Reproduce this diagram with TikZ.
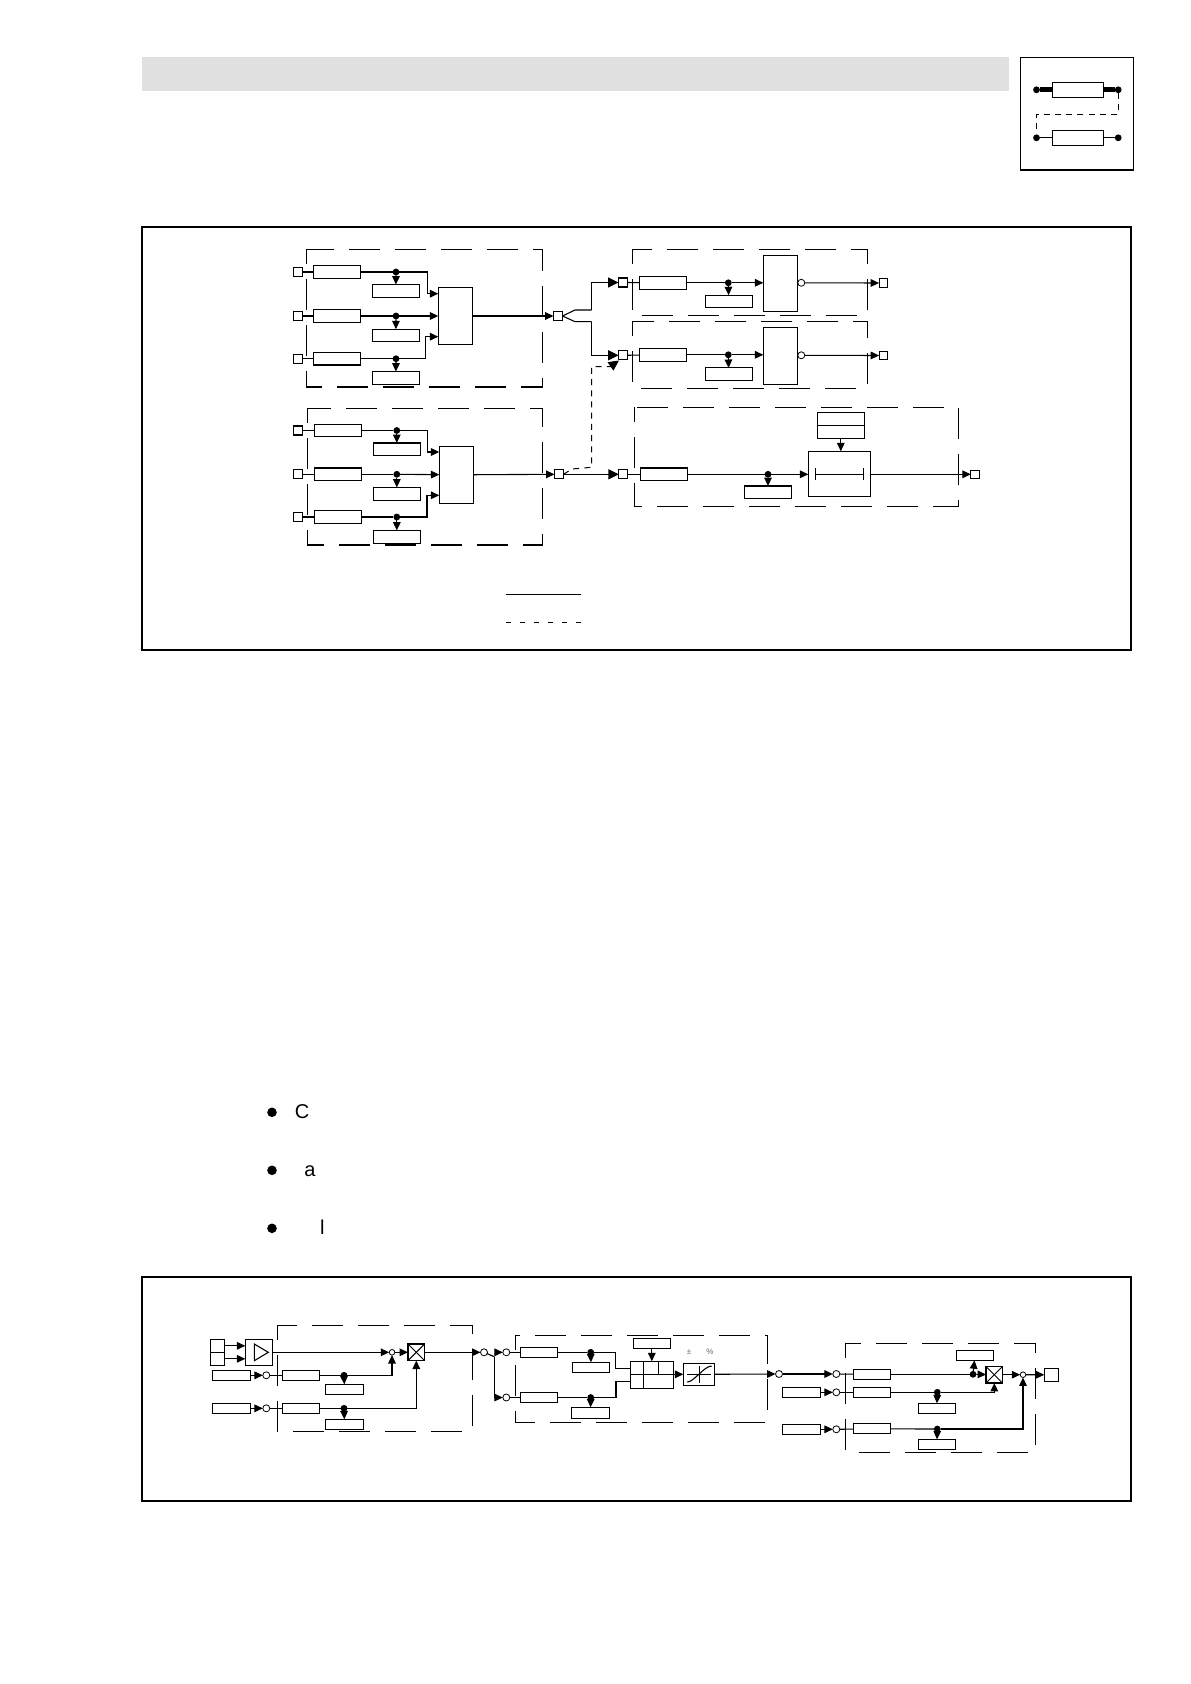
\documentclass[tikz,border=0pt]{standalone}
\usepackage{fontspec}
\setmainfont{Liberation Sans}
\usetikzlibrary{arrows.meta}
\tikzset{
  frame/.style={line width=1pt},
  group/.style={line width=.6pt, dash pattern=on 15.5pt off 7.5pt, dash phase=8pt},
  bar/.style={draw, line width=.55pt, fill=white, inner sep=0pt, outer sep=0pt, minimum width=23.5pt, minimum height=6.3pt},
  tinybar/.style={draw, line width=.55pt, fill=white, inner sep=0pt, outer sep=0pt, minimum width=18.6pt, minimum height=5pt},
  tall/.style={draw, line width=.55pt, inner sep=0pt, outer sep=0pt, minimum width=17pt, minimum height=28.5pt},
  port/.style={draw, line width=.55pt, fill=white, inner sep=0pt, outer sep=0pt, minimum size=4.5pt},
  dot/.style={circle, fill=black, inner sep=0pt, outer sep=0pt, minimum size=3.4pt},
  ring/.style={circle, draw, line width=.4pt, fill=white, inner sep=0pt, outer sep=0pt, minimum size=3.5pt},
  arr/.style={-{Triangle[length=4.2pt,width=3.8pt]}, line width=.55pt},
  bigarr/.style={-{Triangle[length=5.2pt,width=5pt]}, line width=.6pt},
  wire/.style={line width=.55pt},
  fine/.style={line width=.5pt, dash pattern=on 3pt off 2.6pt},
}
\begin{document}
\begin{tikzpicture}[x=.5pt, y=-.5pt]
  \useasboundingbox (0,0) rectangle (1190,1684);
  % header
  \fill[black!12] (142,57) rectangle (1009,91);
  \draw[line width=.6pt] (1020.3,57.3) rectangle (1133.3,170);
  \node[draw, line width=.6pt, inner sep=0pt, outer sep=0pt, minimum width=25.5pt, minimum height=7.5pt] (icona) at (1077.8,89.8) {};
  \node[draw, line width=.6pt, inner sep=0pt, outer sep=0pt, minimum width=25.5pt, minimum height=7.5pt] (iconb) at (1077.8,137.8) {};
  \node[dot] (ia) at (1036.5,89.8) {};
  \node[dot] (ib) at (1118.2,89.8) {};
  \node[dot] (ic) at (1036.5,137.8) {};
  \node[dot] (id) at (1118.2,137.8) {};
  \draw[line width=2.3pt] (ia) -- (icona);
  \draw[line width=2.3pt] (icona) -- (ib);
  \draw[wire] (ic) -- (iconb);
  \draw[wire] (iconb) -- (id);
  \coordinate (ie) at (1118.2,114.3);
  \coordinate (if) at (1036.5,114.3);
  \draw[fine] (ib) -- (ie) -- (if) -- (ic);

  % upper frame
  \draw[frame] (142,226.7) rectangle (1131,650);
  \draw[group] (306.3,249.3) rectangle (542.3,387);
  \draw[group] (307.3,408.3) rectangle (542.3,545);
  \draw[group] (632.3,249.3) rectangle (867.3,315.3);
  \draw[group] (632.3,321.3) rectangle (867.3,388.3);
  \draw[group] (634.3,407.3) rectangle (958.3,506.3);

  % input rows
  \foreach \n/\y/\yb in {1/272/290.8, 2/316/335.5, 3/358.7/377.8} {
    \node[port] (pa\n) at (298,\y) {};
    \node[bar] (ba\n) at (336.8,\y) {};
    \node[dot] (da\n) at (396,\y) {};
    \node[bar] (sa\n) at (395.8,\yb) {};
    \draw[wire] (pa\n) -- (ba\n);
    \draw[wire] (ba\n) -- (da\n);
    \draw[arr] (da\n) -- (sa\n);
  }
  \foreach \n/\y/\yb in {1/430.5/449.3, 2/474.3/493.8, 3/517/536.8} {
    \node[port] (pb\n) at (298,\y) {};
    \node[bar] (bb\n) at (337.8,\y) {};
    \node[dot] (db\n) at (396.8,\y) {};
    \node[bar] (sb\n) at (396.8,\yb) {};
    \draw[wire] (pb\n) -- (bb\n);
    \draw[wire] (bb\n) -- (db\n);
    \draw[arr] (db\n) -- (sb\n);
  }
  \node[tall] (ma) at (455.3,316) {};
  \node[tall] (mb) at (456.3,474.8) {};
  \coordinate (ia1) at (438.3,293.7);
  \coordinate (ia3) at (438.3,336.7);
  \coordinate (ja1) at (427.3,283);
  \coordinate (ja3) at (425.7,345);
  \draw[arr] (da1) -| (ja1) |- (ia1);
  \draw[arr] (da2) -- (ma);
  \draw[arr] (da3) -| (ja3) |- (ia3);
  \coordinate (ib1) at (439.3,452);
  \coordinate (ib3) at (439.3,495.3);
  \coordinate (jb1) at (427.3,442);
  \coordinate (jb3) at (427,505);
  \draw[arr] (db1) -| (jb1) |- (ib1);
  \draw[arr] (db2) -- (mb);
  \draw[arr] (db3) -| (jb3) |- (ib3);

  % outputs of the two inputs
  \node[port] (oa) at (558,316) {};
  \node[port] (ob) at (559,474.3) {};
  \draw[arr] (ma) -- (oa);
  \draw[arr] (mb) -- (ob);

  % right rows
  \node[port] (pc1) at (623,282.5) {};
  \node[port] (pc2) at (623,355.3) {};
  \node[port] (pc3) at (623.3,474.3) {};
  \coordinate (fa) at (575,310);
  \coordinate (fb) at (575,321.7);
  \coordinate (fc) at (591.7,300);
  \coordinate (fd) at (591.7,340);
  \draw[wire] (oa.east) -- (fa) -- (fc |- fa);
  \draw[wire] (oa.east) -- (fb) -- (fd |- fb);
  \draw[bigarr] (fc |- fa) |- (pc1);
  \draw[bigarr] (fd |- fb) |- (pc2);
  \draw[bigarr] (ob) -- (pc3);
  \coordinate (ga) at (572,469);
  \coordinate (gb) at (591.7,467.3);
  \coordinate (gc) at (591.7,366.7);
  \coordinate (gd) at (610,366.7);
  \coordinate (ge) at (619,360.5);
  \draw[line width=.5pt, dash pattern=on 3pt off 2.6pt] (ob.east) -- (ga) -- (gb) -- (gc) -- (gd);
  \draw[bigarr] (gd) -- (ge);

  \node[bar] (bc1) at (663,282.8) {};
  \node[bar] (bc2) at (663,354.8) {};
  \node[bar] (bc3) at (664,474.3) {};
  \node[dot] (dc1) at (728.3,282.8) {};
  \node[dot] (dc2) at (728.3,354.8) {};
  \node[dot] (dc3) at (768,474.3) {};
  \node[bar] (sc1) at (728.8,301.5) {};
  \node[bar] (sc2) at (728.8,374.2) {};
  \node[bar] (sc3) at (768,492.3) {};
  \node[draw, line width=.55pt, inner sep=0pt, outer sep=0pt, minimum width=17pt, minimum height=28pt] (mc1) at (780.3,283.3) {};
  \node[tall] (mc2) at (780.3,355.8) {};
  \node[ring] (rc1) at (801.3,282.8) {};
  \node[ring] (rc2) at (801.3,355.3) {};
  \node[port, minimum size=4.2pt] (qc1) at (883.3,283) {};
  \node[port, minimum size=4.2pt] (qc2) at (883.3,355.5) {};
  \node[port, minimum size=4.2pt] (qc3) at (975,474.3) {};
  \node[draw, line width=.55pt, inner sep=0pt, outer sep=0pt, minimum width=31pt, minimum height=22.5pt] (tm) at (839.3,473.8) {};
  \node[bar, minimum height=6.5pt] (ta) at (840.8,418.8) {};
  \node[bar, minimum height=6.5pt] (tb) at (840.8,431.8) {};
  \foreach \n in {1,2,3} {
    \draw[wire] (pc\n) -- (bc\n);
    \draw[wire] (bc\n) -- (dc\n);
    \draw[arr] (dc\n) -- (sc\n);
  }
  \draw[arr] (dc1) -- (mc1.west |- dc1);
  \draw[arr] (dc2) -- (mc2.west |- dc2);
  \draw[arr] (dc3) -- (tm.west |- dc3);
  \draw[arr] (rc1) -- (qc1);
  \draw[arr] (rc2) -- (qc2);
  \draw[arr] (tm.east |- qc3) -- (qc3);
  \draw[arr] (tb) -- (tb |- tm.north);
  % bar inside the timer block
  \draw[wire] (815.3,468.3) -- (815.3,480.3);
  \draw[wire] (863.7,468.3) -- (863.7,480.3);
  \draw[wire] (815.3,474.3) -- (863.7,474.3);

  % legend
  \coordinate (la) at (506,594.3);
  \coordinate (lb) at (580.7,594.3);
  \coordinate (lc) at (506,622.7);
  \coordinate (ld) at (580.7,622.7);
  \draw[wire] (la) -- (lb);
  \draw[line width=.6pt, dash pattern=on 2.4pt off 4.6pt] (lc) -- (ld);

  % bullets
  \foreach \n/\y in {1/1112.3, 2/1170.3, 3/1228.3} {
    \node[circle, fill=black, inner sep=0pt, minimum size=4.8pt] (bullet\n) at (272,\y) {};
  }
  \node[anchor=base west, inner sep=0pt] (txtc) at (294.5,1118.5) {C};
  \node[anchor=base west, inner sep=0pt] (txta) at (304,1176.5) {a};
  \node[anchor=base west, inner sep=0pt] (txtl) at (319.6,1234.5) {l};

  % lower frame
  \draw[frame] (142,1276.7) rectangle (1131,1501.3);
  \draw[group] (277.3,1325.3) rectangle (472.3,1431.3);
  \draw[group] (515.3,1335.3) rectangle (767.7,1422.3);
  \draw[group] (845.7,1343.3) rectangle (1035.3,1452.3);

  % first section
  \node[draw, line width=.55pt, inner sep=0pt, outer sep=0pt, minimum width=7pt, minimum height=6.5pt] (ua) at (217.3,1345.8) {};
  \node[draw, line width=.55pt, inner sep=0pt, outer sep=0pt, minimum width=7pt, minimum height=6.5pt] (ub) at (217.3,1358.8) {};
  \node[draw, line width=.55pt, inner sep=0pt, outer sep=0pt, minimum width=13.5pt, minimum height=13pt] (amp) at (258.8,1352.3) {};
  \draw[line width=.55pt] (254.3,1344) -- (254.3,1360.7) -- (268.3,1352.3) -- cycle;
  \draw[arr] (ua) -- (amp.west |- ua);
  \draw[arr] (ub) -- (amp.west |- ub);
  \node[ring, minimum size=2.8pt] (sa) at (392,1352.3) {};
  \node[draw, line width=.6pt, inner sep=0pt, outer sep=0pt, minimum size=8.3pt] (xa) at (416.3,1352.3) {};
  \draw[line width=.45pt] (xa.north west) -- (xa.south east);
  \draw[line width=.45pt] (xa.south west) -- (xa.north east);
  \node[ring] (sb) at (484,1352.3) {};
  \draw[arr] (amp) -- (sa);
  \draw[arr] (sa) -- (xa);
  \draw[arr] (xa) -- (sb);
  \foreach \n/\y/\yb in {1/1375.3/1389.3, 2/1408.3/1424.3} {
    \node[tinybar] (ia\n) at (231.5,\y) {};
    \node[ring] (ra\n) at (266.3,\y) {};
    \node[tinybar] (ca\n) at (301,\y) {};
    \node[dot] (ka\n) at (344,\y) {};
    \node[tinybar] (ta\n) at (344.5,\yb) {};
    \draw[arr] (ia\n) -- (ra\n);
    \draw[wire] (ra\n) -- (ca\n);
    \draw[wire] (ca\n) -- (ka\n);
    \draw[arr] (ka\n) -- (ta\n);
  }
  \draw[arr] (ka1) -| (sa);
  \draw[arr] (ka2) -| (xa);

  % switch
  \node[ring] (rb1) at (506.3,1352.3) {};
  \node[ring] (rb2) at (506.3,1397.5) {};
  \coordinate (sw) at (494.3,1356.7);
  \coordinate (sx) at (498,1352.3);
  \draw[wire] (sb) -- (sw);
  \draw[arr] (sx) -- (rb1);
  \draw[arr] (sw) |- (rb2);

  % second section
  \node[tinybar] (cb1) at (539,1352.3) {};
  \node[tinybar] (cb2) at (539,1397.5) {};
  \node[dot] (kb1) at (590.7,1352.3) {};
  \node[dot] (kb2) at (590.7,1397.5) {};
  \node[tinybar] (tb1) at (591,1367.3) {};
  \node[tinybar, minimum height=5.7pt] (tb2) at (590.5,1413) {};
  \node[tinybar] (tc) at (651.8,1343.3) {};
  \node[draw, line width=.6pt, inner sep=0pt, outer sep=0pt, minimum width=21.5pt, minimum height=13.5pt] (tab) at (651.8,1374.8) {};
  \draw[wire] (643.3,1361.3) -- (643.3,1388.3);
  \draw[wire] (658.7,1361.3) -- (658.7,1374.8);
  \draw[wire] (630.3,1374.8) -- (673.3,1374.8);
  \node[draw, line width=.6pt, inner sep=0pt, outer sep=0pt, minimum width=15.5pt, minimum height=11pt] (lim) at (698.8,1374.3) {};
  \draw[wire] (687.3,1374.3) -- (711,1374.3);
  \draw[wire] (699.3,1366) -- (699.3,1383);
  \draw[wire] (687.3,1382) .. controls (694,1382) and (704,1366) .. (711.7,1366);
  \node[text=black!60, font=\fontsize{4}{4}\selectfont, inner sep=0pt] (pm) at (689,1351.7) {±};
  \node[text=black!60, font=\fontsize{4}{4}\selectfont, inner sep=0pt] (pc) at (710,1351.7) {\%};
  \node[ring] (rd) at (779,1374) {};
  \coordinate (jc1) at (615.7,1360);
  \coordinate (jc2) at (616,1390);
  \coordinate (ic1) at (630.3,1368.3);
  \coordinate (ic2) at (630.3,1381.7);
  \draw[wire] (rb1) -- (cb1);
  \draw[wire] (rb2) -- (cb2);
  \draw[wire] (cb1) -- (kb1);
  \draw[wire] (cb2) -- (kb2);
  \draw[arr] (kb1) -- (tb1);
  \draw[arr] (kb2) -- (tb2);
  \draw[wire] (kb1) -| (jc1) |- (ic1);
  \draw[wire] (kb2) -| (jc2) |- (ic2);
  \draw[arr] (tc) -- (tc |- tab.north);
  \draw[arr] (tab.east |- lim) -- (lim);
  \draw[arr] (lim) -- (rd);

  % third section
  \node[ring] (re1) at (836.3,1374) {};
  \node[ring] (re2) at (836.3,1392.3) {};
  \node[ring] (re3) at (836.3,1429.3) {};
  \node[tinybar] (ie2) at (801.5,1392.3) {};
  \node[tinybar] (ie3) at (801.5,1429.3) {};
  \node[tinybar] (ce1) at (872,1374.3) {};
  \node[tinybar] (ce2) at (872,1392.3) {};
  \node[tinybar] (ce3) at (872,1428.8) {};
  \node[dot] (ke1) at (973,1374.3) {};
  \node[dot] (ke2) at (937.3,1392.3) {};
  \node[dot] (ke3) at (937.3,1429) {};
  \node[tinybar] (te1) at (975,1355.3) {};
  \node[tinybar] (te2) at (936.8,1408.3) {};
  \node[tinybar] (te3) at (936.8,1444.3) {};
  \node[draw, line width=.6pt, inner sep=0pt, outer sep=0pt, minimum size=8.3pt] (xb) at (994.3,1374.7) {};
  \draw[line width=.45pt] (xb.north west) -- (xb.south east);
  \draw[line width=.45pt] (xb.south west) -- (xb.north east);
  \node[ring, minimum size=2.8pt] (se) at (1023,1374.7) {};
  \node[draw, line width=.55pt, inner sep=0pt, outer sep=0pt, minimum width=7pt, minimum height=6.5pt] (end) at (1051.3,1374.8) {};
  \draw[arr] (rd) -- (re1);
  \draw[arr] (ie2) -- (re2);
  \draw[arr] (ie3) -- (re3);
  \foreach \n in {1,2,3} {
    \draw[wire] (re\n) -- (ce\n);
    \draw[wire] (ce\n) -- (ke\n);
    \draw[arr] (ke\n) -- (te\n);
  }
  \draw[arr] (ke1) -- (xb);
  \draw[arr] (ke2) -| (xb);
  \draw[arr] (ke3) -| (se);
  \draw[arr] (xb) -- (se);
  \draw[arr] (se) -- (end);
\end{tikzpicture}
\end{document}
